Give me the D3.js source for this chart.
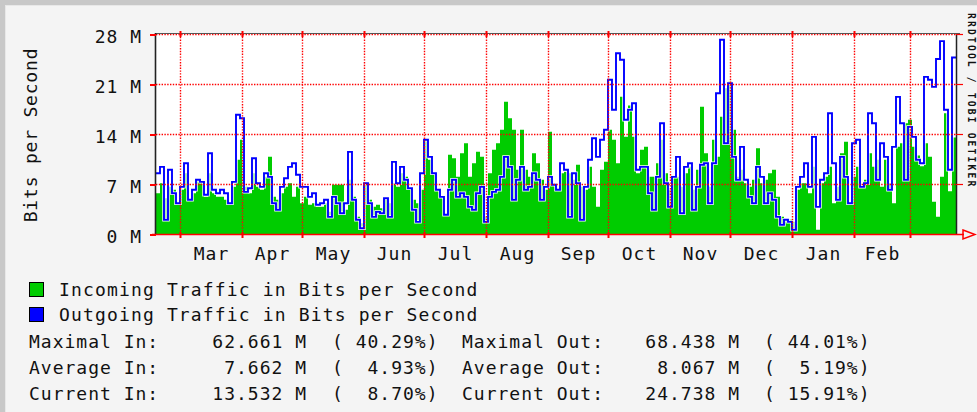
<!DOCTYPE html>
<html>
<head>
<meta charset="utf-8">
<script src="https://cdn.jsdelivr.net/npm/d3@7"></script>
<style>
  html, body { margin: 0; padding: 0; background: #f4f4f4; }
  svg { display: block; }
  text { font-family: "DejaVu Sans Mono", monospace; fill: #111; }
</style>
</head>
<body>
<div id="chart"></div>
<script>
window.onload = function(){

// one sample every 2 days, starting Feb 17 (Mbit/s)
const startDate = new Date(Date.UTC(2006, 1, 17));
const endDate   = new Date(Date.UTC(2007, 2, 24));
const stepDays  = 2;

const incoming = [
  5.7, 7.1, 5.0, 6.6, 6.2, 4.3, 6.2, 8.5, 4.8, 5.7, 7.8, 7.1, 5.2, 8.5, 5.7, 5.2, 5.2, 4.8, 4.1, 6.6,
  10.4, 13.2, 6.6, 5.7, 8.5, 6.6, 6.2, 8.0, 10.8, 5.2, 4.8, 5.7, 6.6, 7.1,
  5.2, 6.6, 4.3, 5.2, 4.1, 4.3, 3.8, 3.8, 4.3, 3.1, 6.9, 6.9, 6.9, 3.4, 7.6, 5.2, 2.4, 1.5, 7.1, 4.8,
  3.8, 4.1, 3.6, 4.8, 4.3, 7.1, 6.6, 8.5, 8.0, 6.2, 4.8, 4.3, 6.2,
  13.2, 10.4, 8.5, 6.2, 5.2, 2.9, 11.1, 10.6, 8.0, 11.3, 12.7, 8.0, 9.9, 11.5, 10.8, 2.4, 8.5, 11.8,
  12.7, 14.6, 18.5, 16.2, 14.6, 9.0, 14.6, 9.0, 8.0, 11.3, 9.9, 7.6, 6.2, 14.3, 7.1,
  6.2, 8.5, 8.7, 8.5, 7.6, 9.7, 6.6, 6.2, 9.4, 6.6, 3.8, 9.0, 10.1, 14.6, 13.2, 9.9, 19.2, 13.6, 18.0,
  13.6, 8.5, 11.8, 12.2, 8.0, 8.0, 9.9, 13.2, 8.5, 6.2, 8.0, 8.0, 6.6, 8.5, 9.4,
  6.2, 9.0, 17.8, 11.3, 6.6, 13.2, 10.8, 16.4, 20.4, 21.3, 14.6, 8.0, 9.0, 7.1, 6.6, 7.6, 12.0, 7.1,
  7.6, 8.5, 9.0, 5.2, 2.4, 2.2, 2.0, 1.7, 6.2, 7.1, 7.1, 5.7, 9.4, 0.6, 7.1,
  8.0, 9.4, 4.3, 6.6, 11.3, 12.9, 4.3, 8.0, 9.4, 6.6, 7.6, 11.3, 9.4, 10.4, 6.6, 10.4, 7.1, 4.3, 12.2,
  12.7, 15.5, 16.0, 12.2, 11.0, 9.5, 12.7, 10.8, 4.5, 2.4, 8.0, 16.9, 6.0, 13.5
];

const outgoing = [
  8.5, 9.4, 2.0, 9.0, 5.7, 4.3, 6.6, 9.9, 4.8, 6.2, 7.6, 7.3, 5.5, 11.3, 6.2, 5.7, 6.2, 5.7, 4.3, 7.3,
  16.7, 16.2, 5.9, 6.4, 10.6, 7.1, 6.6, 8.5, 8.0, 4.3, 3.4, 6.6, 7.8, 9.4,
  9.9, 8.3, 6.6, 6.6, 5.2, 5.7, 4.1, 4.3, 4.8, 2.4, 5.2, 4.3, 2.9, 4.3, 11.5, 4.8, 2.0, 0.8, 7.1, 4.3,
  2.4, 3.1, 2.9, 5.0, 2.4, 10.1, 7.1, 9.4, 7.6, 6.4, 3.4, 1.7, 8.5,
  13.2, 10.8, 8.5, 6.2, 5.2, 2.7, 6.2, 7.6, 5.2, 5.7, 5.2, 3.8, 3.4, 5.7, 6.6, 1.7, 5.2, 5.9, 6.2, 8.0,
  10.8, 9.4, 4.8, 7.6, 9.4, 6.2, 6.6, 8.5, 7.6, 4.8, 6.6, 8.0, 6.9,
  6.2, 9.9, 9.0, 2.4, 8.5, 7.1, 2.0, 6.6, 10.4, 13.4, 10.8, 13.2, 14.6, 21.6, 17.4, 25.3, 24.4, 16.0,
  17.4, 18.3, 9.0, 9.4, 9.4, 5.7, 3.4, 8.0, 15.5, 7.1, 3.8, 8.0, 10.8, 2.9, 9.4, 9.9,
  3.4, 6.6, 9.7, 9.9, 4.3, 9.9, 19.7, 27.2, 12.7, 21.1, 10.8, 7.6, 12.2, 7.6, 5.2, 4.3, 9.4, 8.0, 4.3,
  5.7, 4.8, 2.4, 1.3, 2.0, 1.7, 0.6, 6.6, 8.0, 9.9, 6.6, 13.6, 3.8, 7.6,
  8.5, 16.9, 9.9, 4.8, 10.8, 8.0, 4.3, 12.7, 13.2, 6.6, 7.1, 16.9, 15.5, 7.6, 12.7, 10.8, 6.2, 12.2,
  19.2, 15.5, 7.6, 15.0, 13.6, 10.4, 9.9, 22.0, 21.6, 20.6, 24.5, 27.0, 17.4, 9.0, 24.7
];

const yTicks = [0, 7, 14, 21, 28];
const legendItems = [
  { label: "Incoming Traffic in Bits per Second", color: "#00cc00" },
  { label: "Outgoing Traffic in Bits per Second", color: "#0000ff" }
];
const statLabelsIn  = ["Maximal In:", "Average In:", "Current In:"];
const statValuesIn  = ["62.661 M", "7.662 M", "13.532 M"];
const statPctIn     = ["( 40.29%)", "(  4.93%)", "(  8.70%)"];
const statLabelsOut = ["Maximal Out:", "Average Out:", "Current Out:"];
const statValuesOut = ["68.438 M", "8.067 M", "24.738 M"];
const statPctOut    = ["( 44.01%)", "(  5.19%)", "( 15.91%)"];

const W = 977, H = 412;
const left = 156, right = 956, top = 34, bottom = 234;

let svg = d3.select('#chart').append('svg')
  .attr('width', W)
  .attr('height', H);

// frame
svg.append('rect').attr('width', W).attr('height', H).attr('fill', '#c8c8c8');
svg.append('rect').attr('x', 5).attr('y', 5).attr('width', W - 5).attr('height', H - 5).attr('fill', '#e8e8e8');
svg.append('rect').attr('x', 6).attr('y', 6).attr('width', W - 6).attr('height', H - 6).attr('fill', '#f4f4f4');

let x = d3.scaleUtc().domain([startDate, endDate]).range([left, right]);
let y = d3.scaleLinear().domain([0, 28]).range([bottom, top]);

function toSeries(arr) {
  let s = arr.map((v, i) => ({ date: d3.utcDay.offset(startDate, i * stepDays), v: v }));
  s.push({ date: endDate, v: arr[arr.length - 1] });
  return s;
}
let inSeries = toSeries(incoming);
let outSeries = toSeries(outgoing);

// plot background
svg.append('rect')
  .attr('x', left).attr('y', top)
  .attr('width', right - left).attr('height', bottom - top)
  .attr('fill', '#ffffff');

let area = d3.area()
  .curve(d3.curveStepAfter)
  .x(d => x(d.date))
  .y0(y(0))
  .y1(d => y(d.v));
svg.append('path')
  .datum(inSeries)
  .attr('d', area)
  .attr('fill', '#00cc00');

let line = d3.line()
  .curve(d3.curveStepAfter)
  .x(d => x(d.date))
  .y(d => y(d.v));
svg.append('path')
  .datum(outSeries)
  .attr('d', line)
  .attr('fill', 'none')
  .attr('stroke', '#ffffff')
  .attr('stroke-width', 3.4);
svg.append('path')
  .datum(outSeries)
  .attr('d', line)
  .attr('fill', 'none')
  .attr('stroke', '#0000ff')
  .attr('stroke-width', 1.9);

// grid
let monthStarts = d3.utcMonth.range(d3.utcMonth.ceil(startDate), endDate);
let grid = svg.append('g').attr('class', 'grid');
grid.selectAll('line.h')
  .data(yTicks.slice(1))
  .enter().append('line')
  .attr('x1', left).attr('x2', right)
  .attr('y1', d => y(d) + 0.5).attr('y2', d => y(d) + 0.5)
  .attr('stroke', '#ff0000')
  .attr('stroke-width', 1.4)
  .attr('stroke-dasharray', '1.4,1.4');
grid.selectAll('line.v')
  .data(monthStarts)
  .enter().append('line')
  .attr('x1', d => Math.round(x(d)) + 0.5).attr('x2', d => Math.round(x(d)) + 0.5)
  .attr('y1', top).attr('y2', bottom)
  .attr('stroke', '#ff0000')
  .attr('stroke-width', 1.4)
  .attr('stroke-dasharray', '1.4,1.4');

// frame lines
svg.append('line')
  .attr('x1', left).attr('x2', right + 4).attr('y1', top - 0.5).attr('y2', top - 0.5)
  .attr('stroke', '#555').attr('stroke-width', 1);
svg.append('line')
  .attr('x1', right + 0.5).attr('x2', right + 0.5).attr('y1', top).attr('y2', bottom)
  .attr('stroke', '#222').attr('stroke-width', 1.5);
svg.append('line')
  .attr('x1', left - 0.5).attr('x2', left - 0.5).attr('y1', top - 1).attr('y2', bottom)
  .attr('stroke', '#222').attr('stroke-width', 1.6);

// right side stubs
svg.selectAll('line.rstub')
  .data(yTicks.slice(1))
  .enter().append('line')
  .attr('x1', right).attr('x2', right + 7)
  .attr('y1', d => y(d) + 0.5).attr('y2', d => y(d) + 0.5)
  .attr('stroke', '#ff0000').attr('stroke-width', 1.2);

// y axis
let yAxis = svg.append('g')
  .attr('transform', `translate(${left},0)`)
  .call(d3.axisLeft(y).tickValues(yTicks).tickSize(6).tickPadding(8).tickFormat(d => d + ' M'));
yAxis.select('.domain').remove();
yAxis.selectAll('.tick line').attr('stroke', '#ff0000').attr('stroke-width', 2).attr('transform', 'translate(0,0.5)');
yAxis.selectAll('.tick text')
  .attr('dy', 8.5)
  .style('font-size', '18px')
  .style('letter-spacing', '1px')
  .style('font-family', '"DejaVu Sans Mono", monospace')
  .attr('fill', '#111');

// x axis line and arrow
svg.append('line')
  .attr('x1', left - 4).attr('x2', right + 8)
  .attr('y1', bottom + 0.5).attr('y2', bottom + 0.5)
  .attr('stroke', '#ff0000').attr('stroke-width', 1.5);
svg.append('path')
  .attr('d', `M${right + 7},${bottom - 4} L${right + 19},${bottom + 0.5} L${right + 7},${bottom + 5} Z`)
  .attr('fill', 'none')
  .attr('stroke', '#ff0000')
  .attr('stroke-width', 1.5);

// month ticks
let xTicks = svg.append('g')
  .attr('transform', `translate(0,${bottom - 2})`)
  .call(d3.axisBottom(x).tickValues(monthStarts).tickSize(6).tickFormat(''));
xTicks.select('.domain').remove();
xTicks.selectAll('.tick line').attr('stroke', '#ff0000').attr('stroke-width', 2);
svg.selectAll('line.ttick')
  .data(monthStarts)
  .enter().append('line')
  .attr('x1', d => Math.round(x(d)) + 0.5).attr('x2', d => Math.round(x(d)) + 0.5)
  .attr('y1', top - 3).attr('y2', top + 3)
  .attr('stroke', '#ff0000').attr('stroke-width', 2);

// month labels centred in each month
let monthMids = monthStarts.slice(0, -1).map((d, i) => new Date((+d + +monthStarts[i + 1]) / 2));
let xLabels = svg.append('g')
  .attr('transform', `translate(0,${bottom})`)
  .call(d3.axisBottom(x).tickValues(monthMids).tickSize(0).tickFormat(d3.utcFormat('%b')));
xLabels.select('.domain').remove();
xLabels.selectAll('.tick text')
  .attr('y', 25.5).attr('dy', 0)
  .style('font-size', '18px')
  .style('letter-spacing', '1px')
  .style('font-family', '"DejaVu Sans Mono", monospace')
  .attr('fill', '#111');

// y title
svg.append('text')
  .attr('transform', 'translate(36.5,135) rotate(-90)')
  .attr('text-anchor', 'middle')
  .style('font-size', '18px')
  .style('letter-spacing', '0.8px')
  .text('Bits per Second');

// credit text
svg.append('text')
  .attr('transform', 'translate(968,13) rotate(90)')
  .style('font-size', '9.6px')
  .style('font-weight', 'bold')
  .style('letter-spacing', '2.2px')
  .attr('fill', '#333')
  .text('RRDTOOL / TOBI OETIKER');

// legend
let legend = svg.selectAll('g.legend')
  .data(legendItems)
  .enter().append('g')
  .attr('transform', (d, i) => `translate(0,${282 + i * 25})`);
legend.append('rect')
  .attr('x', 29.5).attr('y', 0.5)
  .attr('width', 14).attr('height', 14)
  .attr('fill', d => d.color)
  .attr('stroke', '#000').attr('stroke-width', 1);
legend.append('text')
  .attr('x', 59).attr('y', 13.5)
  .style('font-size', '18px')
  .style('letter-spacing', '1.15px')
  .text(d => d.label);

// stats
function statRows(labels, values, pcts, xLabel, xValEnd, xPct) {
  labels.forEach((lab, i) => {
    let yy = 347.5 + i * 26;
    svg.append('text').attr('x', xLabel).attr('y', yy)
      .style('font-size', '18px').style('letter-spacing', '1px').text(lab);
    svg.append('text').attr('x', xValEnd).attr('y', yy).attr('text-anchor', 'end')
      .style('font-size', '18px').style('letter-spacing', '1px').text(values[i]);
    svg.append('text').attr('x', xPct).attr('y', yy)
      .style('font-size', '18px').style('letter-spacing', '1px').style('white-space', 'pre').text(pcts[i]);
  });
}
statRows(statLabelsIn, statValuesIn, statPctIn, 29, 307, 332);
statRows(statLabelsOut, statValuesOut, statPctOut, 462, 740, 764);

};
</script>
</body>
</html>
